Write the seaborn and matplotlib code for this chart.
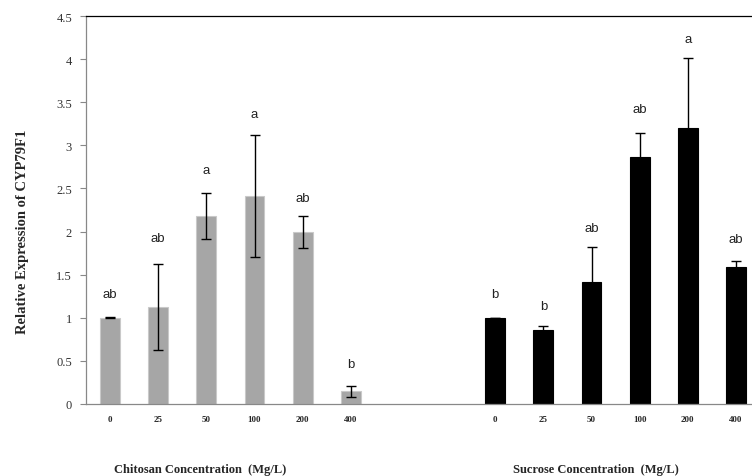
import matplotlib
matplotlib.use("Agg")
import matplotlib.pyplot as plt
import seaborn as sns
import pandas as pd
import numpy as np

concentrations = ["0", "25", "50", "100", "200", "400"]
chitosan_values = [1.0, 1.125, 2.18, 2.41, 1.995, 0.147]
chitosan_errors = [0.005, 0.50, 0.265, 0.71, 0.18, 0.065]
chitosan_letters = ["ab", "ab", "a", "a", "ab", "b"]
chitosan_letter_y = [1.28, 1.93, 2.71, 3.36, 2.39, 0.46]

sucrose_values = [1.0, 0.86, 1.42, 2.86, 3.20, 1.585]
sucrose_errors = [0.0, 0.045, 0.40, 0.28, 0.81, 0.07]
sucrose_letters = ["b", "b", "ab", "ab", "a", "ab"]
sucrose_letter_y = [1.28, 1.14, 2.04, 3.42, 4.23, 1.91]

y_ticks = [0, 0.5, 1, 1.5, 2, 2.5, 3, 3.5, 4, 4.5]
y_tick_labels = ["0", "0.5", "1", "1.5", "2", "2.5", "3", "3.5", "4", "4.5"]

# build table
slots_c = ["C" + c for c in concentrations]
slots_s = ["S" + c for c in concentrations]
gap_slots = ["gap1", "gap2"]
order = slots_c + gap_slots + slots_s
df = pd.DataFrame({
    "slot": slots_c + slots_s,
    "value": chitosan_values + sucrose_values,
    "err": chitosan_errors + sucrose_errors,
    "group": ["Chitosan"] * 6 + ["Sucrose"] * 6,
    "letter": chitosan_letters + sucrose_letters,
    "letter_y": chitosan_letter_y + sucrose_letter_y,
})

sns.set_style("white")
fig = plt.figure(figsize=(7.52, 4.77), dpi=100)
ax = fig.add_axes([86 / 752, 72 / 477, 674 / 752, 388 / 477])

sns.barplot(data=df, x="slot", y="value", hue="group", order=order,
            palette={"Chitosan": "#A6A6A6", "Sucrose": "#000000"},
            width=0.41, dodge=False, legend=False, ax=ax, errorbar=None)
for bar in ax.patches:
    fc = bar.get_facecolor()
    if fc[0] > 0.3:
        bar.set_edgecolor("#C9C9C9")
    else:
        bar.set_edgecolor("#000000")
    bar.set_linewidth(0.8)

xpos = [order.index(s) for s in df["slot"]]
ax.errorbar(xpos, df["value"], yerr=df["err"], fmt="none", ecolor="black",
            elinewidth=1.0, capsize=3.5, capthick=1.0)

for x, lab, ly in zip(xpos, df["letter"], df["letter_y"]):
    ax.text(x, ly, lab, ha="center", va="center", fontsize=9.5,
            family="Liberation Sans", color="#222222")

ax.set_ylim(0, 4.5)
ax.set_xlim(-0.5, len(order) - 0.5)
ax.set_yticks(y_ticks)
ax.set_yticklabels(y_tick_labels, family="Liberation Serif", fontsize=9,
                   color="#333333")

tick_labels = concentrations + ["", ""] + concentrations
ax.set_xticks(range(len(order)))
ax.set_xticklabels(tick_labels, family="Liberation Serif", fontsize=6.5,
                   fontweight="bold")
ax.set_xticks(np.arange(-0.5, len(order), 1.0), minor=True)
ax.tick_params(axis="x", which="major", length=0, pad=8)
ax.tick_params(axis="x", which="minor", length=4, color="#888888", width=0.8)
ax.tick_params(axis="y", which="major", length=4, color="#888888", width=0.8,
               left=True, pad=6)

ax.set_xlabel("")
ax.set_ylabel("")

for side in ["left", "bottom"]:
    ax.spines[side].set_color("#888888")
    ax.spines[side].set_linewidth(0.9)
ax.spines["top"].set_color("black")
ax.spines["top"].set_linewidth(0.9)
ax.spines["right"].set_visible(False)

fig.text(23 / 752, 1 - 232 / 477, "Relative Expression of CYP79F1",
         rotation=90, ha="center", va="center", family="Liberation Serif",
         fontsize=10.5, fontweight="bold")
fig.text(200 / 752, 1 - 470 / 477, "Chitosan Concentration  (Mg/L)",
         ha="center", va="center", family="Liberation Serif", fontsize=9,
         fontweight="bold")
fig.text(596 / 752, 1 - 470 / 477, "Sucrose Concentration  (Mg/L)",
         ha="center", va="center", family="Liberation Serif", fontsize=9,
         fontweight="bold")

fig.savefig("out.png", dpi=100)
